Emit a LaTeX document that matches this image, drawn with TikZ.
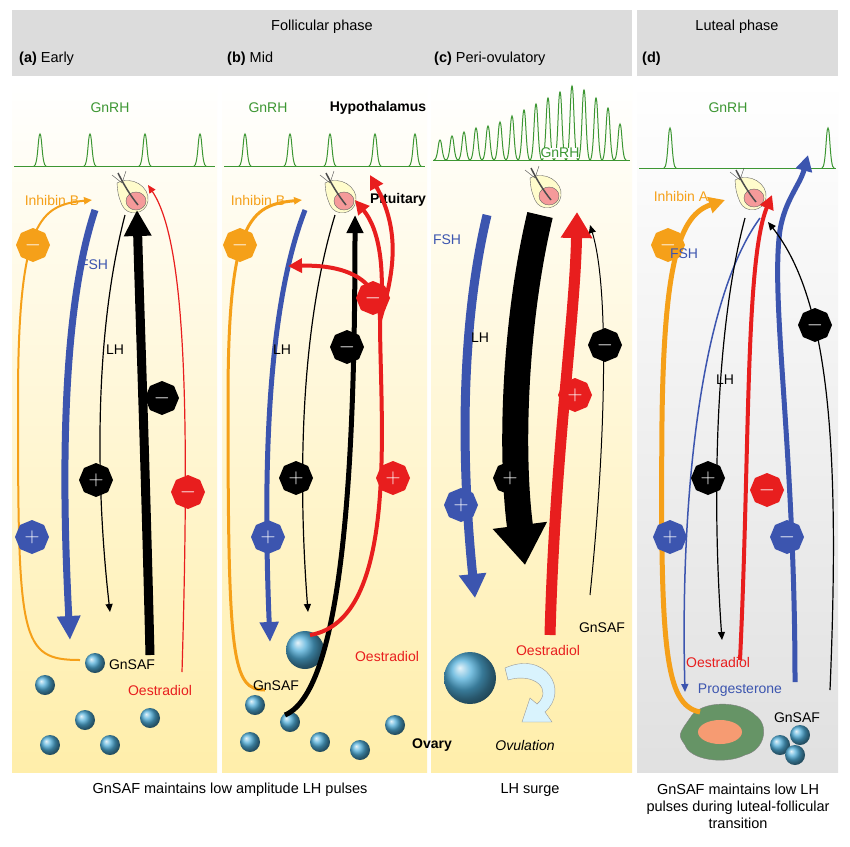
\documentclass[tikz,border=0pt]{standalone}
\usepackage{fontspec}
\setmainfont{Liberation Sans}
\usetikzlibrary{shapes.geometric,arrows.meta}
\definecolor{bl}{RGB}{60,85,175}
\definecolor{rd}{RGB}{232,30,30}
\definecolor{og}{RGB}{245,160,25}
\definecolor{gn}{RGB}{60,150,50}
\definecolor{hd}{RGB}{220,220,220}
\definecolor{yl}{RGB}{255,238,170}
\tikzset{
 oct/.style={regular polygon,regular polygon sides=8,shape border rotate=22.5,minimum size=34pt,inner sep=0,text=white,font=\bfseries\fontsize{22}{22}\selectfont},
 txt/.style={font=\fontsize{14}{16}\selectfont,inner sep=1pt},
 hdr/.style={font=\fontsize{14.5}{16}\selectfont,inner sep=1pt,anchor=west},
 captxt/.style={font=\fontsize{14.5}{17}\selectfont,align=center},
 pulse/.style={gn,line width=1pt},
 fol/.style={circle,ball color=bl!60!cyan!80,minimum size=#1,inner sep=0},
 thintip/.style={-{Triangle[length=8pt,width=7pt]}},
}
\newcommand{\spike}[3]{\draw[pulse] (#1-6,#2) .. controls (#1-2,#2) and (#1-2,#3) .. (#1,#3) .. controls (#1+2,#3) and (#1+2,#2) .. (#1+6,#2);}
\newcommand{\pit}[3]{%
 \fill[yellow!20!white,draw=black!60] (#1-15,#2-12) .. controls (#1,#2-20) and (#1+18,#2-8) .. (#1+16,#2+6) .. controls (#1+14,#2+20) and (#1-5,#2+22) .. (#1-10,#2+10) .. controls (#1-14,#2) .. cycle;
 \fill[rd!45!white,draw=black!60] (#1+4,#2+6) ellipse (10 and 9);
 \draw[black!70,line width=1.5pt] (#1-14,#2-22) .. controls (#1-8,#2-10) and (#1-2,#2) .. (#1+6,#2+10);
 \draw[black!70] (#1-20,#2-20) -- (#1-10,#2-12) (#1-6,#2-24)--(#1-10,#2-12);
 \node[inner sep=0] (#3) at (#1,#2) {};}
\begin{document}
\begin{tikzpicture}[x=1pt,y=-1pt]
\useasboundingbox (0,0) rectangle (850,846);
\fill[white] (0,0) rectangle (850,846);
% header
\fill[hd] (12,10) rectangle (632,76);
\fill[hd] (637,10) rectangle (838,76);
\node[captxt] (fp) at (322,27) {Follicular phase};
\node[captxt] (lp) at (737,27) {Luteal phase};
\node[hdr] (ha) at (18,59) {\textbf{(a)} Early};
\node[hdr] (hb) at (226,59) {\textbf{(b)} Mid};
\node[hdr] (hc) at (433,59) {\textbf{(c)} Peri-ovulatory};
\node[hdr] (hd) at (641,59) {\textbf{(d)}};
% panels
\shade[top color=white,bottom color=yl] (12,80) rectangle (217,772);
\shade[top color=white,bottom color=yl] (222,80) rectangle (427,772);
\shade[top color=white,bottom color=yl] (431,80) rectangle (632,772);
\shade[top color=white,bottom color=black!12] (637,80) rectangle (838,772);
% GnRH
\draw[pulse] (14,166)--(215,166);
\foreach \x in {40,90,145,200} {\spike{\x}{166}{134}}
\draw[pulse] (224,166)--(425,166);
\foreach \x in {245,290,330,375,415} {\spike{\x}{166}{134}}
\draw[pulse] (433,160)--(630,160);
\foreach \x/\t in {440/140,452/136,464/132,476/128,488/126,500/122,512/116,524/110,536/104,548/98,560/92,572/86,584/90,596/98,608/108,620/124} {\spike{\x}{160}{\t}}
\draw[pulse] (639,168)--(836,168);
\spike{670}{168}{128}\spike{828}{168}{128}
\node[txt,text=gn] (g1) at (110,108) {GnRH};
\node[txt,text=gn] (g2) at (268,108) {GnRH};
\node[txt,text=gn,fill=white,inner sep=0pt] (g3) at (560,153) {GnRH};
\node[txt,text=gn] (g4) at (728,108) {GnRH};
\node[txt,font=\bfseries\fontsize{14}{16}\selectfont] (hyp) at (378,108) {Hypothalamus};
\node[txt,font=\bfseries\fontsize{14}{16}\selectfont] (pitl) at (398,200) {Pituitary};
\node[txt,font=\bfseries\fontsize{14}{16}\selectfont] (ovl) at (432,745) {Ovary};
% pituitaries
\pit{132}{195}{pa}\pit{340}{195}{pb}\pit{545}{190}{pc}\pit{750}{192}{pd}
% follicles
\foreach \x/\y/\n in {45/685/a1,95/663/a2,85/720/a3,50/745/a4,110/745/a5,150/718/a6,
 255/705/b1,290/722/b2,250/742/b3,320/742/b4,360/750/b5,395/725/b6,
 780/745/d1,800/735/d2,795/755/d3} {\node[fol=20pt] (\n) at (\x,\y) {};}
\node[fol=38pt] (bigb) at (305,650) {};
\node[fol=52pt] (bigc) at (470,678) {};
\draw[black!40,fill=cyan!15] (505,668) .. controls (545,650) and (570,690) .. (545,712) -- (552,722) -- (522,722) -- (530,698) -- (537,704) .. controls (553,690) and (535,672) .. (508,680) -- cycle;
\node[txt,font=\itshape\fontsize{14}{16}\selectfont] (ovu) at (525,745) {Ovulation};
% corpus luteum
\fill[green!30!black!60,draw=black!50] (690,718) .. controls (700,700) and (740,700) .. (755,715) .. controls (770,725) and (765,750) .. (745,755) .. controls (725,765) and (690,760) .. (685,745) .. controls (678,735) .. cycle;
\fill[rd!40!yl] (720,732) ellipse (22 and 12);
% ===== panel a =====
\draw[og,line width=2pt,thintip] (80,660) .. controls (20,660) and (18,640) .. (18,400) .. controls (18,220) and (40,205) .. (92,200);
\node[oct,fill=og] (oa) at (33,245) {$-$};
\node[txt,text=og] (iba) at (52,200) {Inhibin B};
\draw[bl,line width=7pt,-{Triangle[length=24pt,width=22pt]}] (95,210) .. controls (65,300) and (60,450) .. (70,640);
\node[txt,text=bl] (fsha) at (94,265) {FSH};
\node[oct,fill=bl] (pa1) at (32,537) {$+$};
\draw[black,line width=1.2pt,thintip] (125,215) .. controls (95,330) and (95,480) .. (110,612);
\node[txt] (lha) at (115,350) {LH};
\node[oct,fill=black] (pa2) at (96,480) {$+$};
\draw[black,line width=9pt,-{Triangle[length=26pt,width=26pt]}] (150,655) .. controls (145,450) and (140,320) .. (137,210);
\node[oct,fill=black] (ma1) at (162,398) {$-$};
\draw[rd,line width=1.2pt,thintip] (182,672) .. controls (190,400) and (185,240) .. (148,185);
\node[oct,fill=rd] (ma2) at (188,492) {$-$};
\node[txt] (gsa) at (132,665) {GnSAF};
\node[txt,text=rd] (oea) at (160,690) {Oestradiol};
% ===== panel b =====
\draw[og,line width=3pt,thintip] (265,690) .. controls (232,690) and (228,660) .. (228,400) .. controls (228,220) and (250,205) .. (302,200);
\node[oct,fill=og] (ob) at (240,245) {$-$};
\node[txt,text=og] (ibb) at (258,200) {Inhibin B};
\draw[bl,line width=5pt,-{Triangle[length=20pt,width=18pt]}] (305,210) .. controls (270,300) and (262,450) .. (270,642);
\node[oct,fill=bl] (pb1) at (268,537) {$+$};
\draw[black,line width=1.2pt,thintip] (335,215) .. controls (300,330) and (298,480) .. (308,612);
\node[txt] (lhb) at (282,350) {LH};
\node[oct,fill=black] (pb2) at (296,478) {$+$};
\draw[black,line width=5pt,-{Triangle[length=18pt,width=16pt]}] (285,715) .. controls (345,690) and (355,450) .. (355,215);
\node[oct,fill=black] (mb1) at (347,347) {$-$};
\draw[rd,line width=4pt,-{Triangle[length=14pt,width=14pt]}] (310,635) .. controls (400,620) and (380,420) .. (380,320) .. controls (380,270) and (330,265) .. (288,266);
\draw[rd,line width=4pt,-{Triangle[length=14pt,width=14pt]}] (380,320) .. controls (385,270) and (380,230) .. (355,200);
\draw[rd,line width=4pt,-{Triangle[length=14pt,width=14pt]}] (380,320) .. controls (395,270) and (400,230) .. (370,175);
\node[oct,fill=rd] (mb2) at (373,298) {$-$};
\node[oct,fill=rd] (pb3) at (393,478) {$+$};
\node[txt,text=rd] (oeb) at (387,656) {Oestradiol};
\node[txt] (gsb) at (276,686) {GnSAF};
% ===== panel c =====
\draw[bl,line width=9pt,-{Triangle[length=24pt,width=26pt]}] (487,215) .. controls (462,320) and (460,450) .. (475,598);
\node[txt,text=bl] (fshc) at (447,240) {FSH};
\node[oct,fill=bl] (pc1) at (461,505) {$+$};
\draw[black,line width=26pt,-{Triangle[length=40pt,width=52pt]}] (540,215) .. controls (515,320) and (510,450) .. (525,565);
\node[txt] (lhc) at (480,338) {LH};
\node[oct,fill=black] (pc2) at (510,478) {$+$};
\draw[rd,line width=11pt,-{Triangle[length=26pt,width=30pt]}] (550,635) .. controls (555,450) and (575,320) .. (577,212);
\node[oct,fill=rd] (pc3) at (575,395) {$+$};
\draw[black,line width=1pt,thintip] (590,595) .. controls (605,450) and (610,290) .. (590,225);
\node[oct,fill=black] (mc1) at (605,345) {$-$};
\node[txt] (gsc) at (602,628) {GnSAF};
\node[txt,text=rd] (oec) at (548,650) {Oestradiol};
% ===== panel d =====
\draw[og,line width=5pt,-{Triangle[length=16pt,width=16pt]}] (700,712) .. controls (665,705) and (660,650) .. (662,420) .. controls (664,260) and (680,215) .. (725,200);
\node[oct,fill=og] (od) at (668,245) {$-$};
\node[txt,text=og] (iad) at (681,196) {Inhibin A};
\draw[bl,line width=1.5pt,thintip] (760,218) .. controls (700,300) and (680,500) .. (685,692);
\node[txt,text=bl] (fshd) at (684,254) {FSH};
\node[oct,fill=bl] (pd1) at (670,537) {$+$};
\node[txt,text=bl] (prd) at (740,690) {Progesterone};
\draw[black,line width=1.2pt,thintip] (745,218) .. controls (715,330) and (712,500) .. (722,640);
\node[txt] (lhd) at (725,380) {LH};
\node[oct,fill=black] (pd2) at (708,478) {$+$};
\draw[rd,line width=4pt,-{Triangle[length=14pt,width=14pt]}] (740,660) .. controls (750,450) and (745,260) .. (772,195);
\node[oct,fill=rd] (md1) at (767,490) {$-$};
\node[txt,text=rd] (oed) at (718,662) {Oestradiol};
\draw[bl,line width=5pt,-{Triangle[length=16pt,width=16pt]}] (795,682) .. controls (795,450) and (770,300) .. (780,230) .. controls (785,200) and (800,185) .. (808,155);
\node[oct,fill=bl] (md2) at (787,537) {$-$};
\draw[black,line width=1.2pt,thintip] (830,690) .. controls (840,450) and (830,300) .. (768,222);
\node[oct,fill=black] (md3) at (815,325) {$-$};
\node[txt] (gsd) at (797,718) {GnSAF};
% captions
\node[captxt] (c1) at (230,790) {GnSAF maintains low amplitude LH pulses};
\node[captxt] (c2) at (530,790) {LH surge};
\node[captxt] (c3) at (738,806) {GnSAF maintains low LH\\pulses during luteal-follicular\\transition};
\end{tikzpicture}
\end{document}
